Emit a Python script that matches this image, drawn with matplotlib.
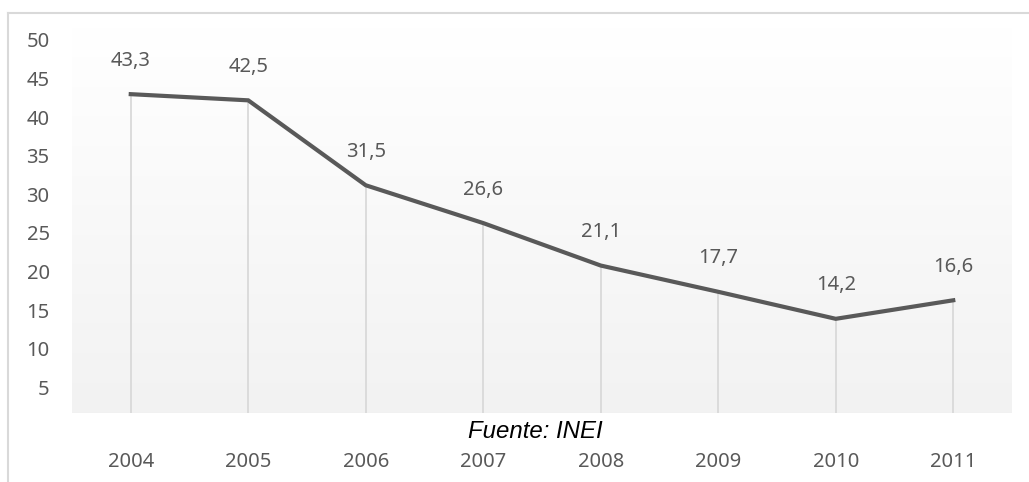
import numpy as np
import matplotlib
matplotlib.use("Agg")
import matplotlib.pyplot as plt
from matplotlib.lines import Line2D

# data
years = ["2004", "2005", "2006", "2007", "2008", "2009", "2010", "2011"]
values = [43.3, 42.5, 31.5, 26.6, 21.1, 17.7, 14.2, 16.6]
yticks = [5, 10, 15, 20, 25, 30, 35, 40, 45, 50]

TEXT = "#595959"
LINE = "#595959"
DROP = "#d9d9d9"

plt.rcParams['font.family'] = ['Noto Sans', 'DejaVu Sans']

fig = plt.figure(figsize=(10.29, 4.82), dpi=100)
ax = fig.add_axes([72/1029, 1 - 413/482, (1012 - 72)/1029, 386/482])

x = np.arange(len(years))
ax.set_xlim(-0.5, len(years) - 0.5)
ax.set_ylim(2, 52)

# gradient background, white at top to light gray at bottom
grad = np.linspace(1.0, 0.949, 256).reshape(-1, 1)
ax.imshow(np.dstack([grad, grad, grad]), extent=[0, 1, 0, 1], transform=ax.transAxes,
          aspect='auto', zorder=0, interpolation='bilinear')

# drop lines
ax.vlines(x, 2, values, color=DROP, lw=1.3, zorder=1)
ax.plot(x, values, color=LINE, lw=3.0, solid_joinstyle='miter', zorder=2)

for xi, v in zip(x, values):
    ax.annotate(("%.1f" % v).replace(".", ","), (xi, v), xytext=(0, 24), textcoords='offset points',
                ha='center', va='center', fontsize=14.5, color=TEXT)

for s in ax.spines.values():
    s.set_visible(False)
ax.set_xticks([])
ax.set_yticks([])

# tick labels placed as text
for yt in yticks:
    ax.text(-0.69, yt, str(yt), ha='right', va='center', fontsize=14.5, color=TEXT,
            transform=ax.transData, clip_on=False)
for xi, yr in zip(x, years):
    ax.text(xi, -4.3, yr, ha='center', va='center', fontsize=14.5, color=TEXT, clip_on=False)

fig.text(535/1029, 1 - 432/482, "Fuente: INEI", ha='center', va='center', fontsize=17.3,
         style='italic', color='black', family=['Liberation Sans', 'DejaVu Sans'])

# outer frame (top and left)
fig.add_artist(Line2D([8/1029, 1], [1 - 13/482, 1 - 13/482], color=DROP, lw=1.5))
fig.add_artist(Line2D([8/1029, 8/1029], [0, 1 - 13/482], color=DROP, lw=1.5))

fig.savefig("out.png", dpi=100)
